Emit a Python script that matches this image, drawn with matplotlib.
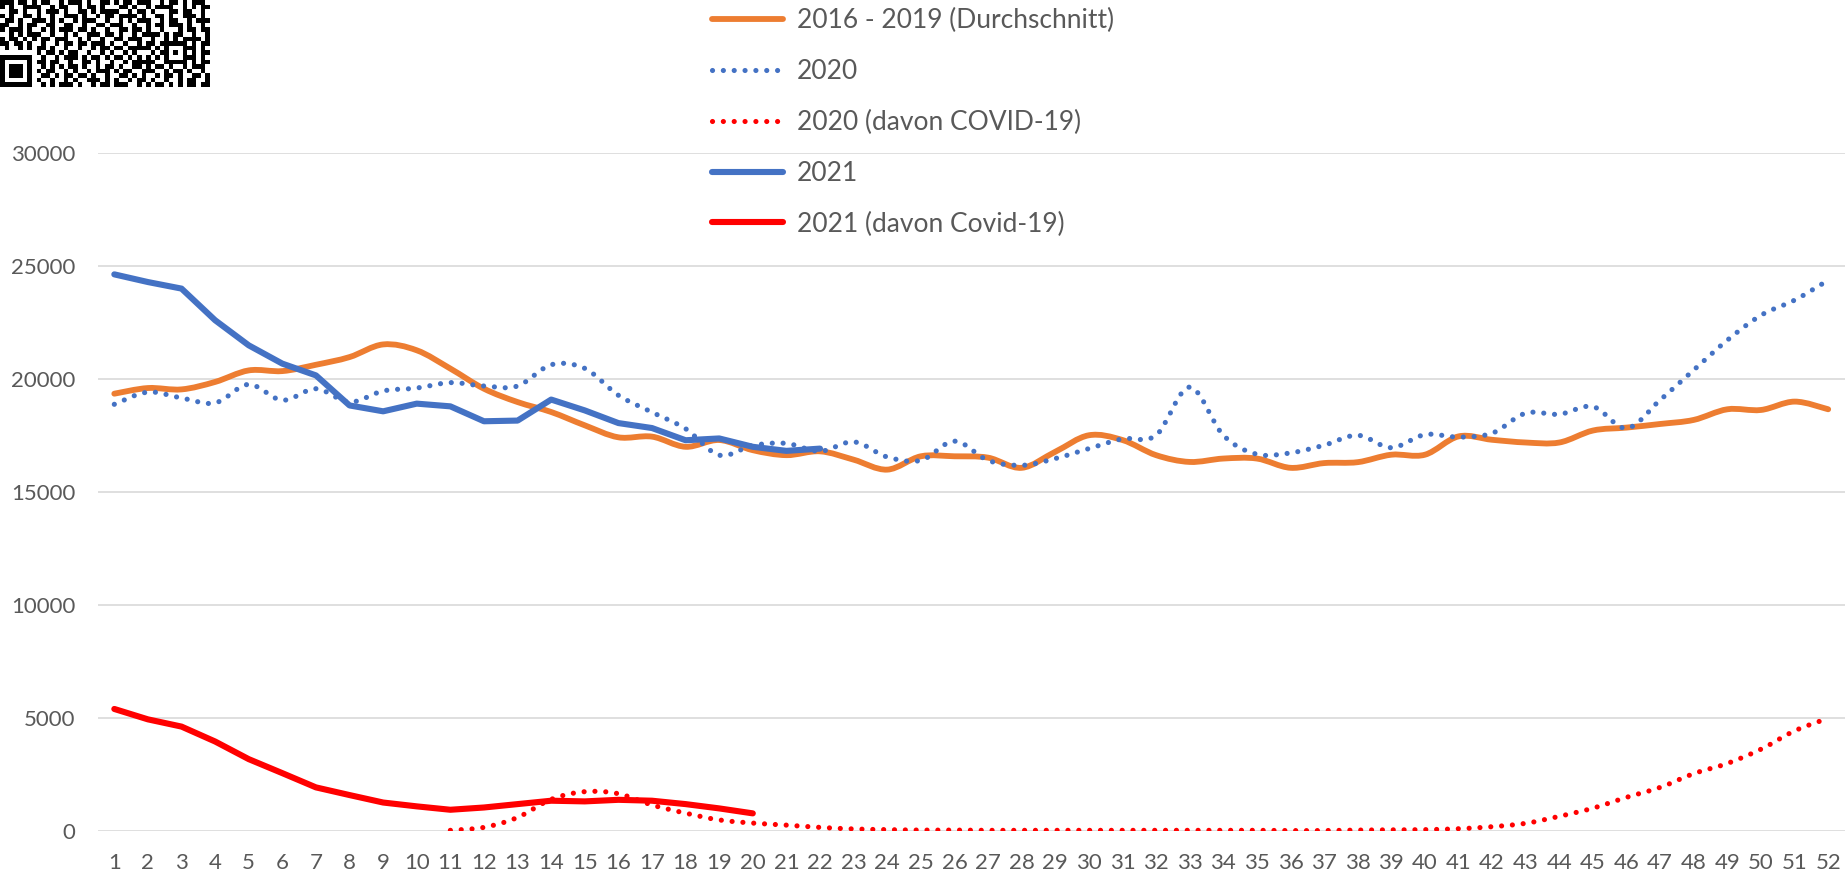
import numpy as np
import matplotlib.pyplot as plt
from matplotlib.path import Path
from matplotlib.patches import PathPatch
from matplotlib.lines import Line2D

plt.rcParams['font.family'] = ['Lato', 'DejaVu Sans']

# weekly deaths
weeks = list(range(1, 53))
avg_2016_2019 = [19350, 19600, 19540, 19870, 20380, 20350, 20630, 20970, 21530, 21270,
                 20460, 19570, 18980, 18540, 17950, 17420, 17450, 17000, 17300, 16850,
                 16630, 16800, 16430, 15990, 16580, 16580, 16520, 16070, 16780, 17510,
                 17300, 16630, 16330, 16480, 16480, 16070, 16280, 16320, 16650, 16650,
                 17460, 17310, 17190, 17190, 17720, 17850, 18010, 18190, 18660, 18630,
                 19000, 18660]
deaths_2020 = [18880, 19420, 19160, 18940, 19760, 19060, 19570, 18980, 19470, 19600,
               19840, 19690, 19690, 20630, 20470, 19280, 18530, 17800, 16630, 17060,
               17150, 16800, 17220, 16550, 16400, 17250, 16400, 16180, 16480, 16920,
               17350, 17510, 19640, 17510, 16670, 16730, 17070, 17510, 16960, 17540,
               17430, 17600, 18490, 18440, 18780, 17820, 19070, 20400, 21720, 22820,
               23490, 24370]
covid_2020_weeks = list(range(11, 53))
covid_2020 = [30, 160, 600, 1400, 1740, 1650, 1150, 790, 490, 350,
              260, 160, 90, 60, 40, 40, 30, 30, 30, 30,
              30, 30, 30, 30, 30, 20, 20, 40, 50, 60,
              100, 190, 340, 650, 1010, 1490, 1930, 2540, 2990, 3620,
              4430, 4990]
weeks_2021 = list(range(1, 23))
deaths_2021 = [24630, 24290, 24000, 22600, 21490, 20680, 20160, 18830, 18570, 18910,
               18790, 18130, 18160, 19090, 18610, 18050, 17830, 17290, 17370, 17000,
               16820, 16920]
covid_2021_weeks = list(range(1, 21))
covid_2021 = [5400, 4940, 4620, 3960, 3180, 2560, 1930, 1590, 1260, 1090,
              940, 1040, 1190, 1340, 1310, 1380, 1340, 1190, 1000, 780]

labels = ['2016 - 2019 (Durchschnitt)', '2020', '2020 (davon COVID-19)',
          '2021', '2021 (davon Covid-19)']

ORANGE = '#ED7D31'
BLUE = '#4472C4'
RED = '#FF0000'
GREY = '#595959'
DOTS = (0, (0.01, 2.1))


def smooth_path(xs, ys):
    # excel-like smoothed line as cubic bezier segments
    p = np.column_stack([xs, ys]).astype(float)
    ext = np.vstack([p[0], p, p[-1]])
    verts = [p[0]]
    codes = [Path.MOVETO]
    for i in range(len(p) - 1):
        p0, p1, p2, p3 = ext[i], ext[i + 1], ext[i + 2], ext[i + 3]
        verts += [p1 + (p2 - p0) / 6, p2 - (p3 - p1) / 6, p2]
        codes += [Path.CURVE4] * 3
    return Path(verts, codes)


W, H = 1847, 875
fig = plt.figure(figsize=(W / 100, H / 100), dpi=100)
ax = fig.add_axes([97.5 / W, (H - 831) / H, (1845 - 97.5) / W, (831 - 153) / H])

ax.add_patch(PathPatch(smooth_path(weeks, avg_2016_2019), fill=False, edgecolor=ORANGE,
                       lw=4.2, capstyle='round', joinstyle='round', zorder=3))
ax.add_patch(PathPatch(smooth_path(weeks, deaths_2020), fill=False, edgecolor=BLUE,
                       lw=3.7, linestyle=DOTS, capstyle='round', zorder=3))
ax.add_patch(PathPatch(smooth_path(covid_2020_weeks, covid_2020), fill=False, edgecolor=RED,
                       lw=3.7, linestyle=DOTS, capstyle='round', zorder=3))
ax.plot(weeks_2021, deaths_2021, color=BLUE, lw=4.4, solid_capstyle='round',
        solid_joinstyle='round', zorder=4)
ax.plot(covid_2021_weeks, covid_2021, color=RED, lw=4.4, solid_capstyle='round',
        solid_joinstyle='round', zorder=4)

ax.set_xlim(0.5, 52.5)
ax.set_ylim(0, 30000)
ax.set_xticks(weeks)
ax.set_yticks(range(0, 30001, 5000))
ax.tick_params(length=0, labelsize=16, labelcolor=GREY)
ax.tick_params(axis='x', pad=16)
ax.tick_params(axis='y', pad=16)
ax.grid(axis='y', color='#D9D9D9', lw=1.2)
ax.set_axisbelow(True)
for s in ax.spines.values():
    s.set_visible(False)

handles = [
    Line2D([], [], color=ORANGE, lw=4.2, solid_capstyle='round'),
    Line2D([], [], color=BLUE, lw=3.7, linestyle=DOTS, dash_capstyle='round'),
    Line2D([], [], color=RED, lw=3.7, linestyle=DOTS, dash_capstyle='round'),
    Line2D([], [], color=BLUE, lw=4.4, solid_capstyle='round'),
    Line2D([], [], color=RED, lw=4.4, solid_capstyle='round'),
]
leg = fig.legend(handles, labels, loc='upper left', bbox_to_anchor=(712 / W, 1 - 8 / H),
                 frameon=False, fontsize=19, borderpad=0, borderaxespad=0,
                 handlelength=2.7, handletextpad=0.53, labelspacing=0.98)
for t in leg.get_texts():
    t.set_color(GREY)

# QR code fragment in the top left corner
qr_rows = [
    "###.##.#.##..#.###.#..##.#.##.###..#.##.#.###.",
    "#.#..####..#.##..#.##.#...##.#..#.####..#.#.##",
    "..##.#..#.###.#..##.#.####..#.##.#...##.##..#.",
    "#.#..##.#..#..###.#..#.##.####.#..##.#..###.#.",
    ".##.#..###.#.#..#.###..#..#.#.###..#.##..#.###",
    "##..#.##..##..##..#..##.###..#..#.##.###.#..#.",
    "#.###.#..#.#.###.##.#..#..##.##.#..#...#.##.##",
    "..#.#.###..#..#.#..###.##.#..#.####.#.##..#..#",
    "#.##.#.#.##.###..#.#..#..##.###..#..#.#.####.#",
    "##.##.#..#..#.##.##.###.#..#..#.##.###..#.#.##",
    ".#..#.#.##.#..#..#..#.##.##.#####.#.#..#.##.#.",
    "........#.##.#.##..#..#.#..#.#...#.#..##..#.##",
    "#######..#..#.###.#.##.#.##.#.#.#.#.##.#.##.#.",
    "#.....#.##.##..#..##.#..#..#.#####..#..##.#.##",
    "#.###.#..#.#.#.##.#..#.##.#..##.#.##.#..#.###.",
    "#.###.#.#.##..#.#..#.###.#.##..###..#.##.#..#.",
    "#.###.#..##.#.##.##.#..#..##.#.#..#.##.#..##.#",
    "#.....#.#..#..#.#..###.#.#..#.##.#..#..#.##..#",
    "#######..#.#.###.#..#.##.###..#.#.##.#.#.##.##",
]
qr = np.array([[c == '#' for c in r.ljust(46, '.')[:46]] for r in qr_rows], dtype=float)
qr[9:14, 36:41] = 1
qr[10:13, 37:40] = 0
qr[11, 38] = 1
qax = fig.add_axes([0, (H - 87) / H, 210 / W, 87 / H])
qax.imshow(qr, cmap='Greys', vmin=0, vmax=1, aspect='auto', interpolation='nearest')
qax.axis('off')

fig.savefig('out.png', dpi=100)
